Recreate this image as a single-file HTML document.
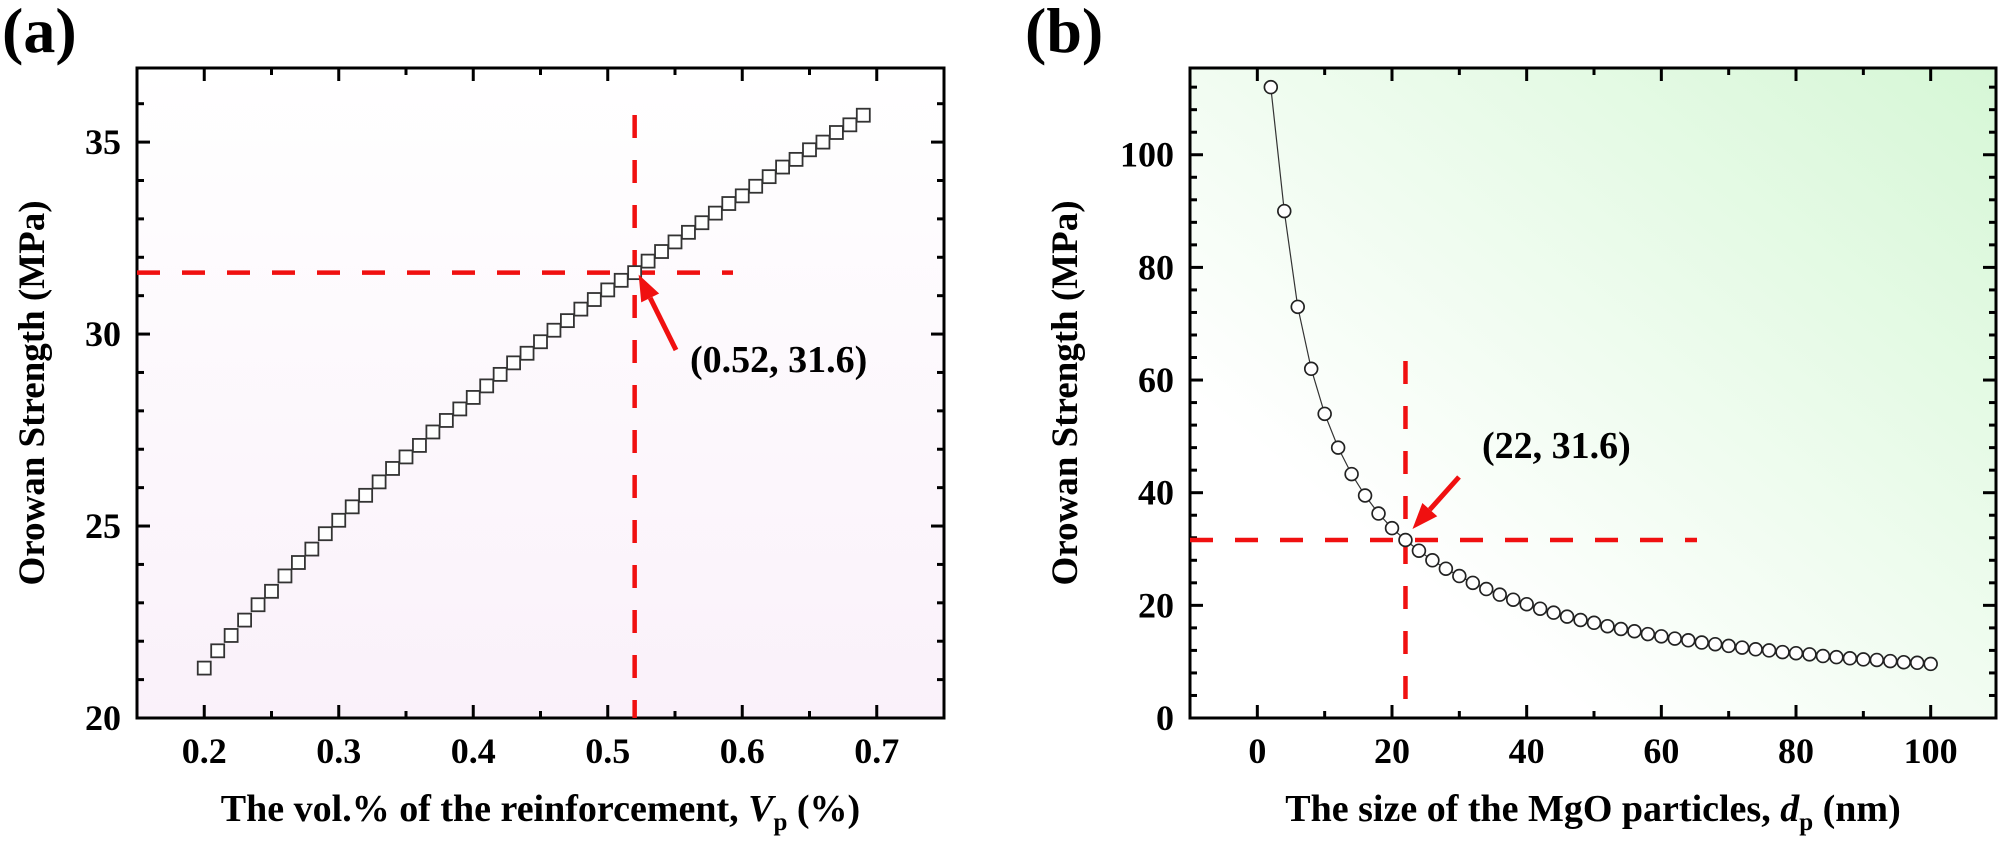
<!DOCTYPE html>
<html><head><meta charset="utf-8"><style>
html,body{margin:0;padding:0;background:#fff}
svg{display:block}
text{font-family:"Liberation Serif",serif;font-weight:bold;fill:#000}
</style></head><body>
<svg id="fig" width="2000" height="841" viewBox="0 0 2000 841" xmlns="http://www.w3.org/2000/svg">
<defs>
<linearGradient id="gA" x1="0" y1="0" x2="0" y2="1"><stop offset="0" stop-color="#ffffff"/><stop offset="1" stop-color="#faf1fa"/></linearGradient>
<linearGradient id="gB" x1="0" y1="1" x2="1" y2="0"><stop offset="0.25" stop-color="#ffffff"/><stop offset="1" stop-color="#d6f7d6"/></linearGradient>
</defs>
<g id="panelA"></g>
<g id="panelB"></g>
</svg>
<script>
const volCats=[0.20,0.21,0.22,0.23,0.24,0.25,0.26,0.27,0.28,0.29,0.30,0.31,0.32,0.33,0.34,0.35,0.36,0.37,0.38,0.39,0.40,0.41,0.42,0.43,0.44,0.45,0.46,0.47,0.48,0.49,0.50,0.51,0.52,0.53,0.54,0.55,0.56,0.57,0.58,0.59,0.60,0.61,0.62,0.63,0.64,0.65,0.66,0.67,0.68,0.69];
const volStrength=[21.3,21.75,22.15,22.55,22.95,23.3,23.7,24.05,24.4,24.8,25.15,25.5,25.8,26.15,26.5,26.8,27.1,27.45,27.75,28.05,28.35,28.65,28.95,29.25,29.5,29.8,30.1,30.35,30.65,30.9,31.15,31.4,31.6,31.9,32.15,32.4,32.65,32.9,33.15,33.4,33.6,33.85,34.1,34.35,34.55,34.8,35.0,35.25,35.45,35.7];
const sizeCats=[2,4,6,8,10,12,14,16,18,20,22,24,26,28,30,32,34,36,38,40,42,44,46,48,50,52,54,56,58,60,62,64,66,68,70,72,74,76,78,80,82,84,86,88,90,92,94,96,98,100];
const sizeStrength=[112,90,73,62,54,48,43.3,39.5,36.3,33.7,31.6,29.7,28.0,26.5,25.2,24.0,22.9,21.9,21.0,20.2,19.4,18.7,18.0,17.4,16.9,16.3,15.8,15.4,14.9,14.5,14.1,13.8,13.4,13.1,12.8,12.5,12.2,12.0,11.7,11.5,11.3,11.0,10.8,10.6,10.4,10.3,10.1,9.9,9.8,9.6];
const aXTicks=["0.2","0.3","0.4","0.5","0.6","0.7"];
const aYTicks=["20","25","30","35"];
const bXTicks=["0","20","40","60","80","100"];
const bYTicks=["0","20","40","60","80","100"];
const aMark=[0.52,31.6];
const bMark=[22,31.6];

const NS="http://www.w3.org/2000/svg";
function mk(parent,tag,attrs,txt){const e=document.createElementNS(NS,tag);for(const k in attrs)e.setAttribute(k,attrs[k]);if(txt!==undefined)e.textContent=txt;parent.appendChild(e);return e;}

function panel(g,cfg){
  const L=cfg.L,R=cfg.R,T=68,B=718;
  const sx=v=>L+(v-cfg.x0)/(cfg.x1-cfg.x0)*(R-L);
  const sy=v=>B-(v-cfg.y0)/(cfg.y1-cfg.y0)*(B-T);
  const bg=mk(g,'rect',{x:L,y:T,width:R-L,height:B-T,fill:cfg.fill});
  
  
  const tg=mk(g,'g',{stroke:'#000','stroke-width':3});
  
  
  for(let v=cfg.xMinStart;v<=cfg.x1+1e-9;v+=cfg.xMinor){
    const major=Math.abs(Math.round((v-cfg.xMajStart)/cfg.xMajor)*cfg.xMajor-(v-cfg.xMajStart))<1e-6;
    const len=major?13:7,x=sx(v);
    mk(tg,'line',{x1:x,x2:x,y1:B,y2:B-len});mk(tg,'line',{x1:x,x2:x,y1:T,y2:T+len});
  }
  for(let v=cfg.y0;v<=cfg.y1+1e-9;v+=cfg.yMinor){
    const major=Math.abs(Math.round((v-cfg.y0)/cfg.yMajor)*cfg.yMajor-(v-cfg.y0))<1e-6;
    const len=major?13:7,y=sy(v);
    mk(tg,'line',{x1:L,x2:L+len,y1:y,y2:y});mk(tg,'line',{x1:R,x2:R-len,y1:y,y2:y});
  }
  const fr=mk(g,'rect',{x:L,y:T,width:R-L,height:B-T,fill:'none',stroke:'#000','stroke-width':3});
  
  
  cfg.xLabels.forEach(s=>{const t=mk(g,'text',{x:sx(parseFloat(s)),y:763,'text-anchor':'middle','font-size':36},s);
    
    });
  cfg.yLabels.forEach(s=>{const t=mk(g,'text',{x:L-16,y:sy(parseFloat(s))+12,'text-anchor':'end','font-size':36},s);
    
    });
  const hx=mk(g,'line',{x1:L,x2:cfg.hEnd,y1:sy(cfg.mark[1]),y2:sy(cfg.mark[1]),stroke:'#f01010','stroke-width':4.5,'stroke-dasharray':'23 22'});
  
  
  const vx=mk(g,'line',{x1:sx(cfg.mark[0]),x2:sx(cfg.mark[0]),y1:cfg.vTop,y2:B,stroke:'#f01010','stroke-width':4.5,'stroke-dasharray':'23 22'});
  
  
  const pts=cfg.xs.map((v,i)=>[sx(v),sy(cfg.ys[i])]);
  if(cfg.line){const pl=mk(g,'polyline',{points:pts.map(p=>p.join(',')).join(' '),fill:'none',stroke:'#333','stroke-width':1.2});
    
    }
  pts.forEach(p=>{
    let m;
    if(cfg.shape==='sq') m=mk(g,'rect',{x:p[0]-6.5,y:p[1]-6.5,width:13,height:13,fill:'#fff',stroke:'#333','stroke-width':1.8});
    else m=mk(g,'circle',{cx:p[0],cy:p[1],r:6.4,fill:'#fff',stroke:'#222','stroke-width':1.7});
    
    
  });
  const tip=[sx(cfg.mark[0])+cfg.tipOff[0],sy(cfg.mark[1])+cfg.tipOff[1]],tail=cfg.tail;
  const ang=Math.atan2(tip[1]-tail[1],tip[0]-tail[0]);
  const hl=26,hw=10,bx=tip[0]-hl*Math.cos(ang),by=tip[1]-hl*Math.sin(ang);
  const ar=mk(g,'g',{});
  
  
  mk(ar,'line',{x1:tail[0],y1:tail[1],x2:bx,y2:by,stroke:'#f01010','stroke-width':5});
  mk(ar,'polygon',{points:`${tip[0]},${tip[1]} ${bx+hw*Math.sin(ang)},${by-hw*Math.cos(ang)} ${bx-hw*Math.sin(ang)},${by+hw*Math.cos(ang)}`,fill:'#f01010'});
  const an=mk(g,'text',{x:cfg.labPos[0],y:cfg.labPos[1],'font-size':38},cfg.labText);
  
  
  const yt=mk(g,'text',{x:0,y:0,'font-size':37,'text-anchor':'middle',transform:`translate(${cfg.yTitleX},393) rotate(-90)`},'Orowan Strength (MPa)');
  
  
  const xt=mk(g,'text',{x:(L+R)/2,y:821,'font-size':38,'text-anchor':'middle'});
  
  
  xt.appendChild(document.createTextNode(cfg.xTitle));
  mk(xt,'tspan',{'font-style':'italic'},cfg.sym);
  mk(xt,'tspan',{'font-size':25,dy:9},'p');
  mk(xt,'tspan',{dy:-9},cfg.unit);
  const pl=mk(g,'text',{x:cfg.panelX,y:52,'font-size':64},cfg.panel);
  
  
}

panel(document.getElementById('panelA'),{L:137,R:944,x0:0.15,x1:0.75,y0:20,y1:36.93,
  xMinStart:0.15,xMajStart:0.2,xMinor:0.05,xMajor:0.1,yMinor:1,yMajor:5,fill:'url(#gA)',
  xLabels:aXTicks,yLabels:aYTicks,xs:volCats,ys:volStrength,shape:'sq',line:false,
  mark:aMark,hEnd:733,vTop:115,tipOff:[4,2],tail:[676,350],labPos:[690,372],labText:'(0.52, 31.6)',
  yTitleX:44,xTitle:'The vol.% of the reinforcement, ',sym:'V',unit:' (%)',panel:'(a)',panelX:2});
panel(document.getElementById('panelB'),{L:1190,R:1996,x0:-10,x1:109.7,y0:0,y1:115.4,
  xMinStart:-10,xMajStart:0,xMinor:10,xMajor:20,yMinor:4,yMajor:20,fill:'url(#gB)',
  xLabels:bXTicks,yLabels:bYTicks,xs:sizeCats,ys:sizeStrength,shape:'c',line:true,
  mark:bMark,hEnd:1697,vTop:361,tipOff:[7,-11],tail:[1459,477],labPos:[1482,458],labText:'(22, 31.6)',
  yTitleX:1077,xTitle:'The size of the MgO particles, ',sym:'d',unit:' (nm)',panel:'(b)',panelX:1025});
</script>
</body></html>
